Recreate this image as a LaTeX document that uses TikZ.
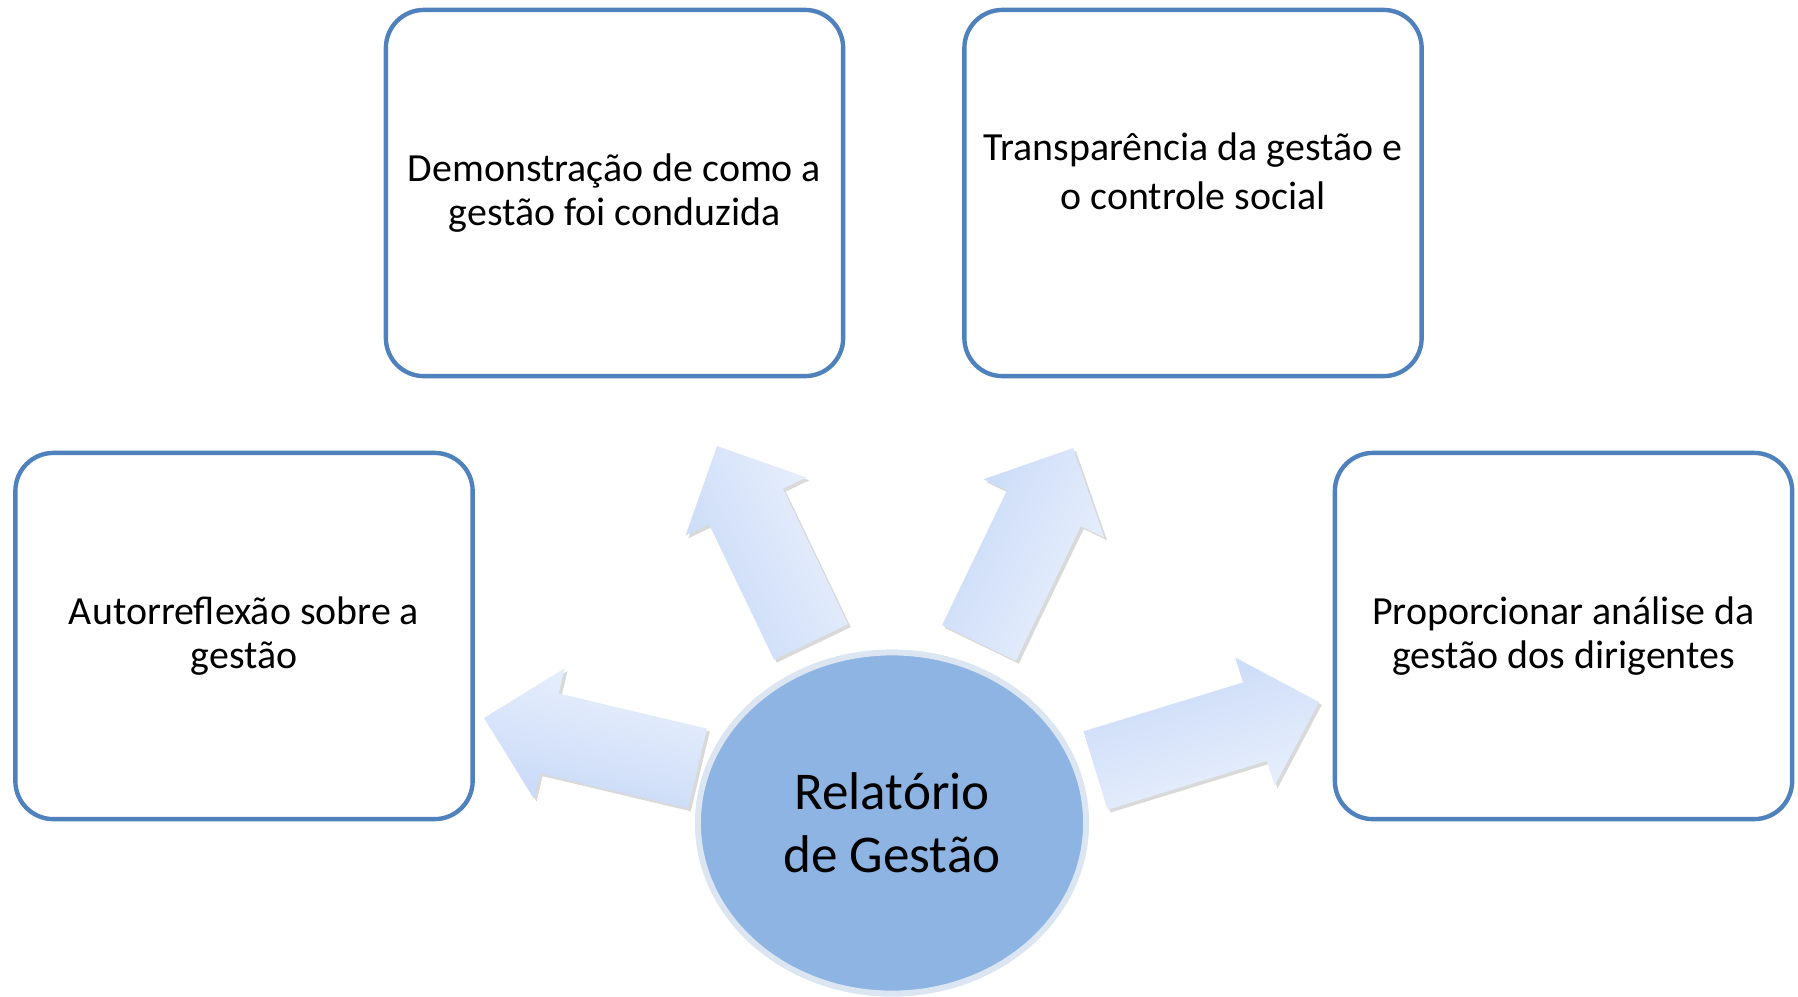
\documentclass[tikz,border=0pt]{standalone}
\usepackage{fontspec}
\setmainfont{Carlito}
\usetikzlibrary{positioning,calc,shapes.geometric,shadows}

\definecolor{caixaazul}{RGB}{79,129,189}
\definecolor{centroazul}{RGB}{142,180,227}
\definecolor{anelazul}{RGB}{220,230,242}
\definecolor{setaescura}{RGB}{200,217,247}
\definecolor{setaclara}{RGB}{234,241,253}

\begin{document}
\begin{tikzpicture}[x=0.01cm, y=-0.01cm,
        caixa/.style={draw=caixaazul, line width=1.25pt, rounded corners=0.38cm, fill=white, minimum width=4.57cm, minimum height=3.66cm, inner sep=0pt},
        texto/.style={align=center, font=\fontsize{11.35}{12.5}\selectfont},
        centro/.style={ellipse, fill=centroazul, draw=anelazul, line width=1.7pt, minimum width=3.88cm, minimum height=3.41cm, inner sep=0pt, align=center, font=\fontsize{15.1}{17.9}\selectfont},
        seta/.style={top color=setaescura, bottom color=setaclara, drop shadow={shadow xshift=0.8pt, shadow yshift=-0.8pt, opacity=0.3}}
    ]
    \useasboundingbox (0,0) rectangle (1798,996);

    % --- CAIXAS ---
    \node[caixa] (demo) at (614.5,193) {};
    \node[caixa] (transp) at (1193,193) {};
    \node[caixa] (auto) at (244,636) {};
    \node[caixa] (prop) at (1563.5,636) {};

    \node[texto] (tdemo) at (demo.center) {Demonstração de como a\\gestão foi conduzida};
    \node[texto, font=\fontsize{11.35}{14}\selectfont] (ttransp) at ([yshift=0.22cm]transp.center) {Transparência da gestão e\\o controle social};
    \node[texto] (tauto) at (auto.center) {Autorreflexão sobre a\\gestão};
    \node[texto] (tprop) at (prop.center) {Proporcionar análise da\\gestão dos dirigentes};

    % --- SETAS ---
    \coordinate (baseE) at (697.5,768.5);  \coordinate (pontaE) at (484,718);
    \coordinate (baseSE) at (811,642);     \coordinate (pontaSE) at (717,446);
    \coordinate (baseSD) at (979,643);     \coordinate (pontaSD) at (1073,448);
    \coordinate (baseD) at (1095.5,770.5); \coordinate (pontaD) at (1319,702);

    \foreach \s/\ang in {E/166.7, SE/115.6, SD/64.3, D/17.0} {
        \coordinate (col\s) at ($(ponta\s)!0.67cm!(base\s)$);
        \path[seta, shading angle=\ang]
            ($(base\s)!0.41cm!90:(ponta\s)$) -- ($(col\s)!0.41cm!90:(ponta\s)$)
            -- ($(col\s)!0.67cm!90:(ponta\s)$) -- (ponta\s)
            -- ($(col\s)!0.67cm!-90:(ponta\s)$) -- ($(col\s)!0.41cm!-90:(ponta\s)$)
            -- ($(base\s)!0.41cm!-90:(ponta\s)$) -- cycle;
    }

    % --- CENTRO ---
    \node[centro] (rel) at (892,823) {Relatório\\de Gestão};

\end{tikzpicture}
\end{document}
